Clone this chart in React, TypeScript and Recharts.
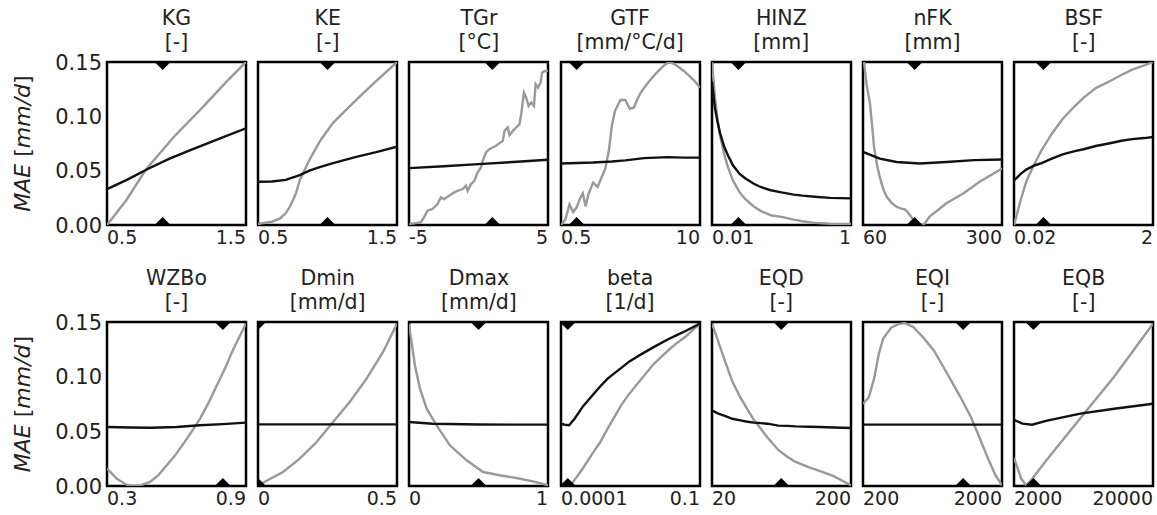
import React from "react";
import { ComposedChart, Line, Scatter, XAxis, YAxis, ReferenceArea, Label } from "recharts";

type Pt = [number, number];

const FONT = "'DejaVu Sans', sans-serif";

// panel titles, units and x ranges
const names = ["KG", "KE", "TGr", "GTF", "HINZ", "nFK", "BSF", "WZBo", "Dmin", "Dmax", "beta", "EQD", "EQI", "EQB"];
const units = ["[-]", "[-]", "[°C]", "[mm/°C/d]", "[mm]", "[mm]", "[-]", "[-]", "[mm/d]", "[mm/d]", "[1/d]", "[-]", "[-]", "[-]"];
const xDomains: Pt[] = [
    [0.5, 1.5], [0.5, 1.5], [-5, 5], [0.5, 10], [0.01, 1], [60, 300], [0.02, 2],
    [0.3, 0.9], [0, 0.5], [0, 1], [0.0001, 0.1], [20, 200], [200, 2000], [2000, 20000],
];
const logScale = [false, false, false, true, true, false, true, false, false, false, true, true, true, true];
// default parameter value (diamond markers)
const refValues = [0.9, 1.0, 1.0, 0.7, 0.024, 149, 0.053, 0.8, 0, 0.5, 0.00014, 63, 1050, 2760];
const yTicks = [0, 0.05, 0.1, 0.15];

// black = one series, grey = the other
const kgBlack: Pt[] = [[0.5, 0.033], [0.65, 0.042], [0.8, 0.052], [0.95, 0.061], [1.1, 0.069], [1.3, 0.079], [1.5, 0.089]];
const kgGrey: Pt[] = [[0.5, 0], [0.64, 0.023], [0.78, 0.051], [0.98, 0.081], [1.17, 0.106], [1.36, 0.132], [1.5, 0.15]];

const keBlack: Pt[] = [[0.5, 0.0398], [0.6, 0.04], [0.7, 0.0415], [0.8, 0.046], [0.87, 0.05], [0.95, 0.0535], [1.04, 0.057], [1.2, 0.0625], [1.35, 0.067], [1.5, 0.072]];
const keGrey: Pt[] = [[0.5, 0.001], [0.6, 0.003], [0.66, 0.006], [0.7, 0.011], [0.73, 0.017], [0.77, 0.028], [0.8, 0.041], [0.87, 0.06], [0.95, 0.078], [1.04, 0.094], [1.19, 0.113], [1.33, 0.13], [1.5, 0.15]];

const tgrBlack: Pt[] = [[-5, 0.0523], [-2.5, 0.054], [0, 0.056], [2.5, 0.058], [5, 0.06]];
const tgrGrey: Pt[] = [
    [-5, 0], [-4.88, 0.001], [-4.16, 0.0024], [-3.92, 0.007], [-3.67, 0.0132], [-3.31, 0.0147], [-2.95, 0.0193],
    [-2.71, 0.0254], [-2.47, 0.0239], [-2.11, 0.0269], [-1.75, 0.03], [-1.51, 0.0315], [-1.14, 0.0331], [-0.9, 0.0361],
    [-0.78, 0.0315], [-0.54, 0.0377], [-0.3, 0.0407], [-0.06, 0.0484], [0.18, 0.053], [0.3, 0.0591], [0.54, 0.0667],
    [0.78, 0.0698], [1.02, 0.0713], [1.27, 0.0729], [1.51, 0.0753], [1.75, 0.0774], [1.87, 0.0866], [2.11, 0.0897],
    [2.23, 0.0827], [2.47, 0.0866], [2.71, 0.0897], [2.95, 0.0928], [3.07, 0.1019], [3.27, 0.1218], [3.43, 0.1172],
    [3.6, 0.1096], [3.8, 0.1127], [3.99, 0.1096], [4.11, 0.1295], [4.28, 0.1264], [4.47, 0.131], [4.57, 0.1402],
    [4.76, 0.1417], [4.88, 0.1417], [5, 0.142],
];

const gtfBlack: Pt[] = [[0.5, 0.0566], [1, 0.0575], [1.5, 0.0585], [2, 0.0595], [3, 0.0615], [5, 0.0625], [7, 0.062], [10, 0.062]];
const gtfGrey: Pt[] = [
    [0.5, 0], [0.55, 0.005], [0.6, 0.019], [0.65, 0.012], [0.7, 0.016], [0.75, 0.024], [0.8, 0.029], [0.85, 0.017],
    [0.9, 0.028], [1.0, 0.039], [1.1, 0.035], [1.2, 0.044], [1.3, 0.052], [1.4, 0.068], [1.5, 0.092], [1.6, 0.105],
    [1.8, 0.115], [2.0, 0.115], [2.2, 0.107], [2.4, 0.108], [2.6, 0.116], [2.8, 0.122], [3.2, 0.13], [3.6, 0.136],
    [4, 0.141], [4.5, 0.146], [5, 0.1495], [5.5, 0.149], [6, 0.147], [7, 0.142], [8, 0.137], [9, 0.132], [10, 0.1264],
];

const hinzBlack: Pt[] = [
    [0.01, 0.132], [0.011, 0.108], [0.012, 0.095], [0.013, 0.085], [0.015, 0.072], [0.017, 0.064], [0.02, 0.055],
    [0.025, 0.047], [0.03, 0.043], [0.04, 0.038], [0.05, 0.035], [0.07, 0.032], [0.1, 0.03], [0.15, 0.028],
    [0.2, 0.027], [0.3, 0.026], [0.5, 0.025], [1, 0.0245],
];
const hinzGrey: Pt[] = [
    [0.01, 0.15], [0.011, 0.118], [0.012, 0.098], [0.013, 0.083], [0.015, 0.065], [0.017, 0.053], [0.02, 0.041],
    [0.025, 0.03], [0.03, 0.024], [0.04, 0.017], [0.05, 0.013], [0.07, 0.009], [0.1, 0.0075], [0.15, 0.005],
    [0.2, 0.0035], [0.3, 0.002], [0.5, 0.0012], [1, 0.001],
];

const nfkBlack: Pt[] = [[60, 0.0673], [75, 0.064], [89, 0.061], [118, 0.058], [158, 0.0566], [204, 0.058], [252, 0.0597], [300, 0.0603]];
const nfkGrey: Pt[] = [
    [60, 0.158], [66, 0.13], [72, 0.112], [76, 0.09], [79, 0.072], [84, 0.056], [89, 0.044], [95, 0.033], [101, 0.026],
    [110, 0.02], [118, 0.0168], [126, 0.015], [132, 0.0144], [137, 0.012], [142, 0.0083], [148, 0.004], [154, 0.0015],
    [160, 0.0003], [166, 0.001], [175, 0.0077], [190, 0.014], [204, 0.02], [233, 0.029], [262, 0.04], [300, 0.052],
];

const bsfBlack: Pt[] = [
    [0.02, 0.041], [0.025, 0.047], [0.03, 0.051], [0.04, 0.055], [0.05, 0.057], [0.07, 0.061], [0.1, 0.065],
    [0.15, 0.068], [0.2, 0.0697], [0.3, 0.0727], [0.5, 0.0755], [0.7, 0.0775], [1, 0.079], [1.5, 0.08], [2, 0.081],
];
const bsfGrey: Pt[] = [
    [0.02, 0], [0.025, 0.023], [0.03, 0.04], [0.04, 0.057], [0.05, 0.069], [0.07, 0.084], [0.1, 0.0975],
    [0.15, 0.1095], [0.2, 0.117], [0.3, 0.126], [0.5, 0.133], [0.7, 0.138], [1, 0.143], [1.5, 0.147], [2, 0.15],
];

const wzboBlack: Pt[] = [[0.3, 0.054], [0.4, 0.0535], [0.49, 0.0533], [0.6, 0.054], [0.7, 0.0555], [0.8, 0.0566], [0.9, 0.058]];
const wzboGrey: Pt[] = [
    [0.3, 0.0159], [0.342, 0.0067], [0.384, 0.0012], [0.414, 0], [0.444, 0.0006], [0.486, 0.0037], [0.522, 0.01],
    [0.558, 0.0189], [0.594, 0.028], [0.63, 0.0387], [0.666, 0.05], [0.702, 0.0616], [0.738, 0.076], [0.774, 0.092],
    [0.81, 0.108], [0.846, 0.1256], [0.9, 0.1485],
];

const dminBlack: Pt[] = [[0, 0.0564], [0.25, 0.0564], [0.5, 0.0564]];
const dminGrey: Pt[] = [[0, 0.0006], [0.09, 0.0128], [0.15, 0.025], [0.21, 0.04], [0.27, 0.0585], [0.33, 0.0768], [0.39, 0.098], [0.45, 0.1226], [0.5, 0.1485]];

const dmaxBlack: Pt[] = [[0, 0.0585], [0.17, 0.057], [0.5, 0.0562], [1, 0.0561]];
const dmaxGrey: Pt[] = [
    [0, 0.148], [0.043, 0.11], [0.079, 0.089], [0.127, 0.0707], [0.199, 0.0555], [0.294, 0.0372], [0.414, 0.0235],
    [0.533, 0.0128], [0.653, 0.0098], [0.773, 0.0073], [0.892, 0.0043], [1, 0.0006],
];

const betaBlack: Pt[] = [
    [0.0001, 0.057], [0.00012, 0.056], [0.00015, 0.0556], [0.0002, 0.062], [0.0003, 0.073], [0.0005, 0.084],
    [0.0007, 0.091], [0.001, 0.098], [0.002, 0.108], [0.003, 0.114], [0.005, 0.1197], [0.01, 0.127], [0.02, 0.134],
    [0.03, 0.1375], [0.05, 0.142], [0.1, 0.1485],
];
const betaGrey: Pt[] = [
    [0.00016, 0], [0.0002, 0.006], [0.0003, 0.0165], [0.0005, 0.031], [0.0007, 0.04], [0.001, 0.052], [0.002, 0.074],
    [0.003, 0.0845], [0.005, 0.096], [0.01, 0.1115], [0.02, 0.1235], [0.03, 0.13], [0.05, 0.137], [0.1, 0.1485],
];

const eqdBlack: Pt[] = [
    [20, 0.0692], [22, 0.0665], [25, 0.064], [28, 0.0615], [32, 0.06], [36, 0.0588], [40, 0.058], [50, 0.057],
    [60, 0.0552], [70, 0.055], [80, 0.0545], [100, 0.0542], [120, 0.054], [150, 0.0535], [200, 0.053],
];
const eqdGrey: Pt[] = [
    [20, 0.1485], [22, 0.1335], [25, 0.113], [28, 0.0955], [32, 0.081], [36, 0.07], [40, 0.0605], [50, 0.0445],
    [60, 0.033], [70, 0.0265], [80, 0.022], [100, 0.017], [120, 0.0135], [150, 0.009], [200, 0.0006],
];

const eqiBlack: Pt[] = [[200, 0.0561], [600, 0.0561], [2000, 0.0561]];
const eqiGrey: Pt[] = [
    [200, 0.0753], [220, 0.081], [240, 0.098], [260, 0.121], [280, 0.135], [320, 0.145], [360, 0.148], [400, 0.149],
    [460, 0.1454], [550, 0.135], [650, 0.1235], [800, 0.1036], [1000, 0.0818], [1200, 0.0627], [1400, 0.042],
    [1600, 0.024], [1800, 0.0096], [2000, 0.0006],
];

const eqbBlack: Pt[] = [[2000, 0.0605], [2300, 0.057], [2700, 0.0561], [3400, 0.0595], [6000, 0.0662], [10500, 0.0707], [20000, 0.0753]];
const eqbGrey: Pt[] = [[2000, 0.0256], [2100, 0.018], [2250, 0.007], [2450, 0.0005], [2700, 0.0067], [3400, 0.023], [6000, 0.062], [10500, 0.1], [20000, 0.1485]];

const blackSeries = [kgBlack, keBlack, tgrBlack, gtfBlack, hinzBlack, nfkBlack, bsfBlack, wzboBlack, dminBlack, dmaxBlack, betaBlack, eqdBlack, eqiBlack, eqbBlack];
const greySeries = [kgGrey, keGrey, tgrGrey, gtfGrey, hinzGrey, nfkGrey, bsfGrey, wzboGrey, dminGrey, dmaxGrey, betaGrey, eqdGrey, eqiGrey, eqbGrey];

const rowTop = [62, 322];
const rowHeight = [163, 164];
const PLOT_W = 139;
const Y_AXIS_W = 103;
const TOP_M = 16;

const toRows = (pts: Pt[]) => pts.map(([x, y]) => ({ x, y }));

function Diamond(props: any) {
    const { cx, cy } = props;
    const r = 8;
    return <polygon points={`${cx},${cy - r} ${cx + r},${cy} ${cx},${cy + r} ${cx - r},${cy}`} fill="#000" />;
}

function EdgeTick(props: any) {
    const { x, y, payload, index } = props;
    return (
        <text x={x} y={y} dy="0.71em" textAnchor={index === 0 ? "start" : "end"}
            fontSize={19} fontFamily={FONT} fill="#222">
            {String(payload.value)}
        </text>
    );
}

function ValueTick(props: any) {
    const { x, y, payload } = props;
    return (
        <text x={x} y={y} dy="0.36em" textAnchor="end" fontSize={21} fontFamily={FONT} fill="#222">
            {Number(payload.value).toFixed(2)}
        </text>
    );
}

function YLabel(props: any) {
    const { viewBox } = props;
    const cx = viewBox.x + 18;
    const cy = viewBox.y + viewBox.height / 2;
    return (
        <text x={cx} y={cy} transform={`rotate(-90, ${cx}, ${cy})`} textAnchor="middle"
            dominantBaseline="central" fontSize={22} fontFamily={FONT} fill="#222">
            <tspan fontStyle="italic">MAE</tspan> [<tspan fontStyle="italic">mm/d</tspan>]
        </text>
    );
}

function Panel({ i }: { i: number }) {
    const row = i < 7 ? 0 : 1;
    const col = i % 7;
    const first = col === 0;
    const [lo, hi] = xDomains[i];
    const plotLeft = 107 + 151.2 * col;
    const yW = first ? Y_AXIS_W : 0;
    const width = 4 + yW + PLOT_W + 4;
    const height = TOP_M + rowHeight[row] + 34;
    const markers = [{ x: refValues[i], y: 0 }, { x: refValues[i], y: 0.15 }];

    return (
        <>
            <div style={{
                position: "absolute", left: plotLeft, top: rowTop[row] - 56, width: PLOT_W,
                textAlign: "center", fontFamily: FONT, fontSize: 20.5, lineHeight: "24px", color: "#222",
            }}>
                <div>{names[i]}</div>
                <div>{units[i]}</div>
            </div>
            <div style={{ position: "absolute", left: plotLeft - yW - 4, top: rowTop[row] - TOP_M }}>
                <ComposedChart width={width} height={height} margin={{ top: TOP_M, right: 4, bottom: 0, left: 4 }}>
                    <XAxis type="number" dataKey="x" domain={[lo, hi]} scale={logScale[i] ? "log" : "linear"}
                        ticks={[lo, hi]} interval={0} allowDataOverflow tickLine={false} axisLine={false}
                        tickSize={0} tickMargin={6} height={34} tick={EdgeTick} />
                    <YAxis type="number" dataKey="y" domain={[0, 0.15]} ticks={yTicks} interval={0} allowDataOverflow
                        hide={!first} width={yW} tickLine={false} axisLine={false} tickSize={0} tickMargin={5}
                        tick={ValueTick}>
                        {first && <Label content={YLabel} />}
                    </YAxis>
                    <Line data={toRows(greySeries[i])} dataKey="y" type="linear" stroke="#999999" strokeWidth={2.4}
                        dot={false} activeDot={false} isAnimationActive={false} />
                    <Line data={toRows(blackSeries[i])} dataKey="y" type="linear" stroke="#111" strokeWidth={2.4}
                        dot={false} activeDot={false} isAnimationActive={false} />
                    <Scatter data={markers} dataKey="y" shape={Diamond} isAnimationActive={false} />
                    <ReferenceArea x1={lo} x2={hi} y1={0} y2={0.15} fill="none" fillOpacity={0}
                        stroke="#000" strokeWidth={2.5} />
                </ComposedChart>
            </div>
        </>
    );
}

export default function App() {
    return (
        <div style={{ position: "absolute", left: 0, top: 0, width: 1157, height: 515, background: "#fff" }}>
            {names.map((_, i) => <Panel key={i} i={i} />)}
        </div>
    );
}
